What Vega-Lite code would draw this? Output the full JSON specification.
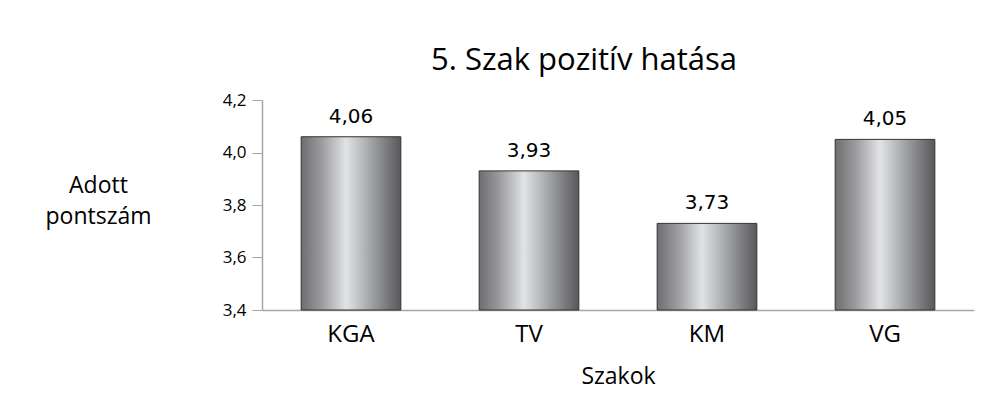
{
  "$schema": "https://vega.github.io/schema/vega-lite/v6.json",
  "autosize": {"type": "none"},
  "width": 712,
  "height": 210,
  "padding": {"left": 262, "top": 100, "right": 23, "bottom": 100},
  "background": "white",
  "title": {
    "text": "5. Szak pozitív hatása",
    "font": "Open Sans",
    "fontSize": 31,
    "fontWeight": "normal",
    "color": "#000000",
    "anchor": "middle",
    "dx": -34,
    "dy": 4,
    "baseline": "alphabetic",
    "offset": -6
  },
  "data": {
    "values": [
      {"szak": "KGA", "pont": 4.06},
      {"szak": "TV", "pont": 3.93},
      {"szak": "KM", "pont": 3.73},
      {"szak": "VG", "pont": 4.05}
    ]
  },
  "transform": [
    {"calculate": "replace(format(datum.pont, '.2f'), '.', ',')", "as": "cimke"}
  ],
  "encoding": {
    "x": {
      "field": "szak",
      "type": "nominal",
      "sort": null,
      "scale": {"paddingInner": 0.44, "paddingOuter": 0.22},
      "axis": {
        "title": "Szakok",
        "titleFont": "Open Sans",
        "titleFontSize": 23,
        "titleFontWeight": "normal",
        "titleColor": "#000000",
        "titlePadding": 19,
        "labelFont": "Open Sans",
        "labelFontSize": 24,
        "labelColor": "#000000",
        "labelAngle": 0,
        "labelPadding": 12,
        "ticks": false,
        "domainColor": "#a6a6a6",
        "domainWidth": 1.5
      }
    },
    "y": {
      "field": "pont",
      "type": "quantitative",
      "scale": {"domain": [3.4, 4.2], "zero": false, "nice": false},
      "axis": {
        "title": ["Adott", "pontszám"],
        "titleFont": "Open Sans",
        "titleFontSize": 23,
        "titleFontWeight": "normal",
        "titleColor": "#000000",
        "titleAngle": 0,
        "titleAlign": "center",
        "titleBaseline": "alphabetic",
        "titleLineHeight": 31,
        "titleX": -164,
        "titleY": 92,
        "values": [3.4, 3.6, 3.8, 4.0, 4.2],
        "labelExpr": "replace(format(datum.value, '.1f'), '.', ',')",
        "labelFont": "Open Sans",
        "labelFontSize": 17,
        "labelColor": "#000000",
        "labelPadding": 6,
        "tickSize": 10,
        "tickColor": "#a6a6a6",
        "domainColor": "#a6a6a6",
        "domainWidth": 1.5,
        "grid": false
      }
    }
  },
  "layer": [
    {
      "mark": {
        "type": "bar",
        "stroke": "#333333",
        "strokeWidth": 1,
        "color": {
          "gradient": "linear",
          "x1": 0, "x2": 1, "y1": 0, "y2": 0,
          "stops": [
            {"offset": 0, "color": "#6e6e70"},
            {"offset": 0.2, "color": "#9a9a9c"},
            {"offset": 0.45, "color": "#e2e3e5"},
            {"offset": 0.7, "color": "#a2a3a7"},
            {"offset": 1, "color": "#58585c"}
          ]
        }
      },
      "encoding": {"y2": {"datum": 3.4}}
    },
    {
      "mark": {
        "type": "text",
        "font": "DejaVu Sans",
        "fontSize": 20,
        "color": "#000000",
        "baseline": "alphabetic",
        "dy": -14
      },
      "encoding": {"text": {"field": "cimke"}}
    }
  ],
  "config": {
    "view": {"stroke": null}
  }
}
